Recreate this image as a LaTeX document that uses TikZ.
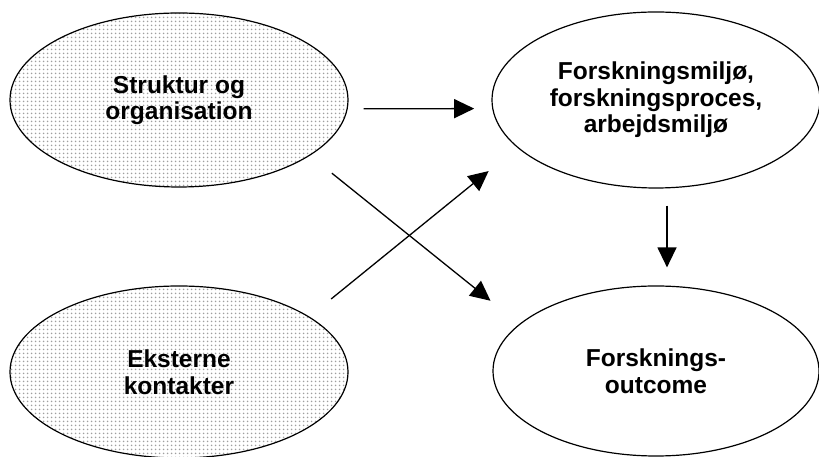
\documentclass[tikz,border=0pt]{standalone}
\usepackage{fontspec}
\setmainfont{Liberation Sans}
\usetikzlibrary{arrows.meta,shapes.geometric,patterns.meta}

\begin{document}
\begin{tikzpicture}[x=1pt,y=1pt,
  blob/.style={ellipse,draw,line width=1.2pt,inner sep=0pt,align=center,
    font=\bfseries\fontsize{24.5}{26.5}\selectfont},
  dotted blob/.style={blob,pattern={Dots[distance=4pt,radius=1.1pt]},pattern color=gray!75},
  arr/.style={-{Triangle[length=20pt,width=19pt]},line width=1.3pt}]
  \useasboundingbox (0,0) rectangle (819,457);
  \node[dotted blob,minimum width=338pt,minimum height=174pt] (s) at (179,357) {Struktur og\\organisation};
  \node[dotted blob,minimum width=338pt,minimum height=172pt] (e) at (179,85) {Eksterne\\kontakter};
  \node[blob,minimum width=328pt,minimum height=176pt] (f) at (656,357) {Forskningsmiljø,\\forskningsproces,\\arbejdsmiljø};
  \node[blob,minimum width=326pt,minimum height=170pt] (o) at (656,86) {Forsknings-\\outcome};
  \draw[arr,shorten <=16pt,shorten >=18pt] (s.-3) -- (f.183);
  \draw[arr,shorten <=28pt,shorten >=37pt] (s.-23) -- (o.161);
  \draw[arr,shorten <=28pt,shorten >=37pt] (e.23) -- (f.199);
  \draw[arr,shorten <=17pt,shorten >=18pt] ([xshift=11pt]f.south) -- ([xshift=11pt]o.north);
\end{tikzpicture}
\end{document}
